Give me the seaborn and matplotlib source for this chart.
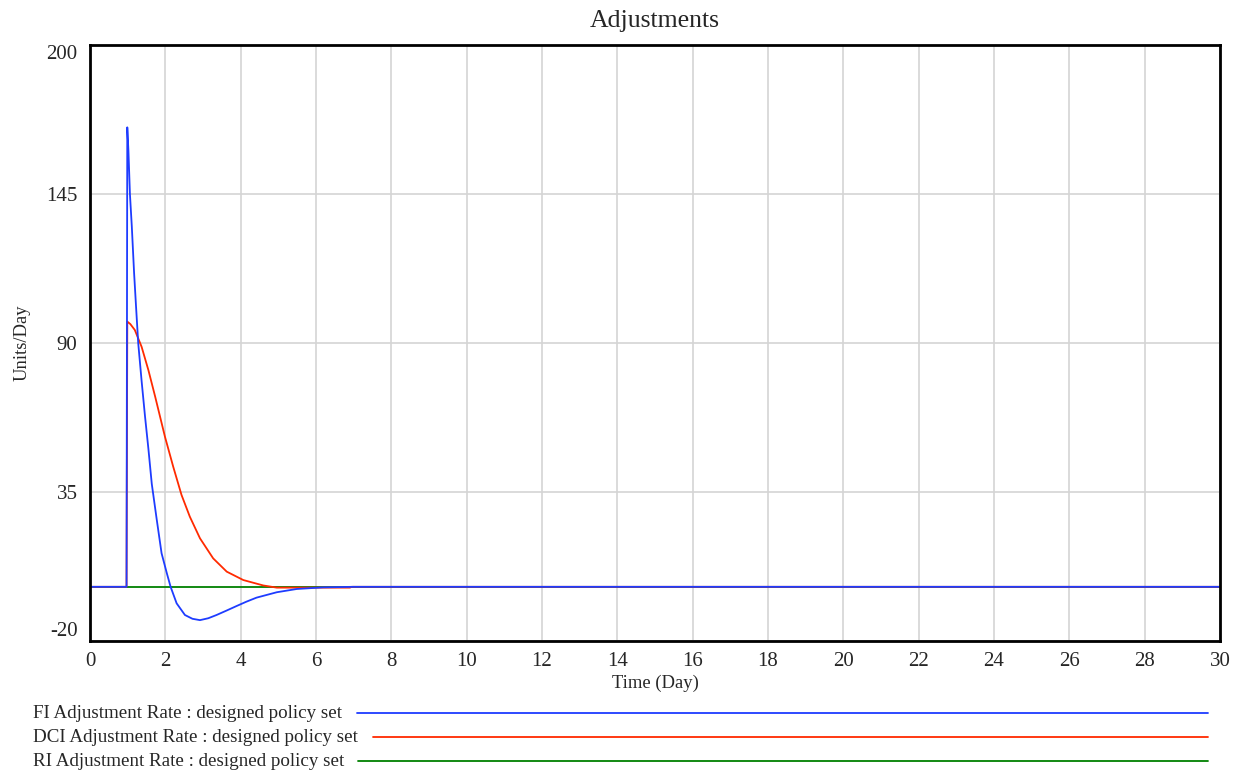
import matplotlib
matplotlib.use("Agg")
import matplotlib.pyplot as plt
from matplotlib.lines import Line2D
import seaborn as sns

# FI Adjustment Rate (blue)
fi_time = [0, 0.97, 0.99, 1.02, 1.06, 1.11, 1.17, 1.22, 1.28, 1.37, 1.46, 1.55, 1.64,
           1.77, 1.90, 2.04, 2.14, 2.30, 2.52, 2.72, 2.92, 3.14, 3.36, 3.62, 3.89,
           4.15, 4.42, 4.96, 5.49, 6.19, 7.0, 30]
fi_rate = [0, 0, 169.6, 161, 145, 133, 116, 104, 90, 76, 63, 51, 38,
           25, 12.4, 5, 0, -6.1, -10.4, -11.8, -12.3, -11.6, -10.4, -8.8, -7.1,
           -5.5, -4.0, -2.0, -0.8, -0.2, 0, 0]

# DCI Adjustment Rate (red)
dci_time = [0, 0.97, 0.99, 1.07, 1.19, 1.37, 1.55, 1.73, 1.99, 2.21, 2.43, 2.65,
            2.92, 3.27, 3.63, 4.07, 4.6, 4.96, 6.9, 6.95, 30]
dci_rate = [0, 0, 97.9, 97, 94.8, 88.6, 80, 70.2, 55.4, 44.3, 33.9, 25.9,
            17.9, 10.5, 5.6, 2.5, 0.5, -0.3, -0.3, 0, 0]

# RI Adjustment Rate (green)
ri_time = [0, 30]
ri_rate = [0, 0]

x_ticks = list(range(0, 31, 2))
y_ticks = [-20, 35, 90, 145, 200]

BLUE = "#1e3cff"
RED = "#ff2a00"
GREEN = "#008000"

sns.set_style("white")
plt.rcParams["font.family"] = ["Liberation Serif", "DejaVu Serif"]
plt.rcParams["axes.unicode_minus"] = False

fig = plt.figure(figsize=(12.39, 7.74), dpi=100)
ax = fig.add_axes([90 / 1239, 1 - 641 / 774, 1130 / 1239, 596 / 774])

sns.lineplot(x=ri_time, y=ri_rate, ax=ax, color=GREEN, linewidth=1.3, estimator=None)
sns.lineplot(x=dci_time, y=dci_rate, ax=ax, color=RED, linewidth=1.3, estimator=None)
sns.lineplot(x=fi_time, y=fi_rate, ax=ax, color=BLUE, linewidth=1.3, estimator=None)

ax.set_xlim(0, 30)
ax.set_ylim(-20, 200)
ax.set_xticks(x_ticks)
ax.set_yticks(y_ticks)
ax.grid(True, color="#d4d4d4", linewidth=1.2)
ax.set_axisbelow(True)
for s in ax.spines.values():
    s.set_color("black")
    s.set_linewidth(2)
ax.tick_params(axis="both", length=3, width=1, color="#c8c8c8", labelsize=15)
ax.tick_params(axis="y", pad=6)
ax.tick_params(axis="x", pad=5)

# end labels sit inside the axis range, like the original
ylabels = ax.get_yticklabels()
ylabels[0].set_va("bottom")
ylabels[-1].set_va("top")

ax.set_title("Adjustments", fontsize=18.5, pad=13)
ax.set_xlabel("Time (Day)", fontsize=13.4)
ax.set_ylabel("Units/Day", fontsize=13.4)
ax.xaxis.set_label_coords(0.5, -0.057)
ax.yaxis.set_label_coords(-0.053, 0.5)

# legend rows below the chart
legend_rows = [
    ("FI Adjustment Rate : designed policy set", BLUE, 713, 357),
    ("DCI Adjustment Rate : designed policy set", RED, 737, 373),
    ("RI Adjustment Rate : designed policy set", GREEN, 761, 358),
]
for label, color, ypx, xstart in legend_rows:
    yf = 1 - ypx / 774
    fig.text(33 / 1239, yf, label, fontsize=13.7, va="center", ha="left")
    fig.add_artist(Line2D([xstart / 1239, 1208 / 1239], [yf, yf], color=color,
                          linewidth=1.3, transform=fig.transFigure))

fig.savefig("out.png", dpi=100)
